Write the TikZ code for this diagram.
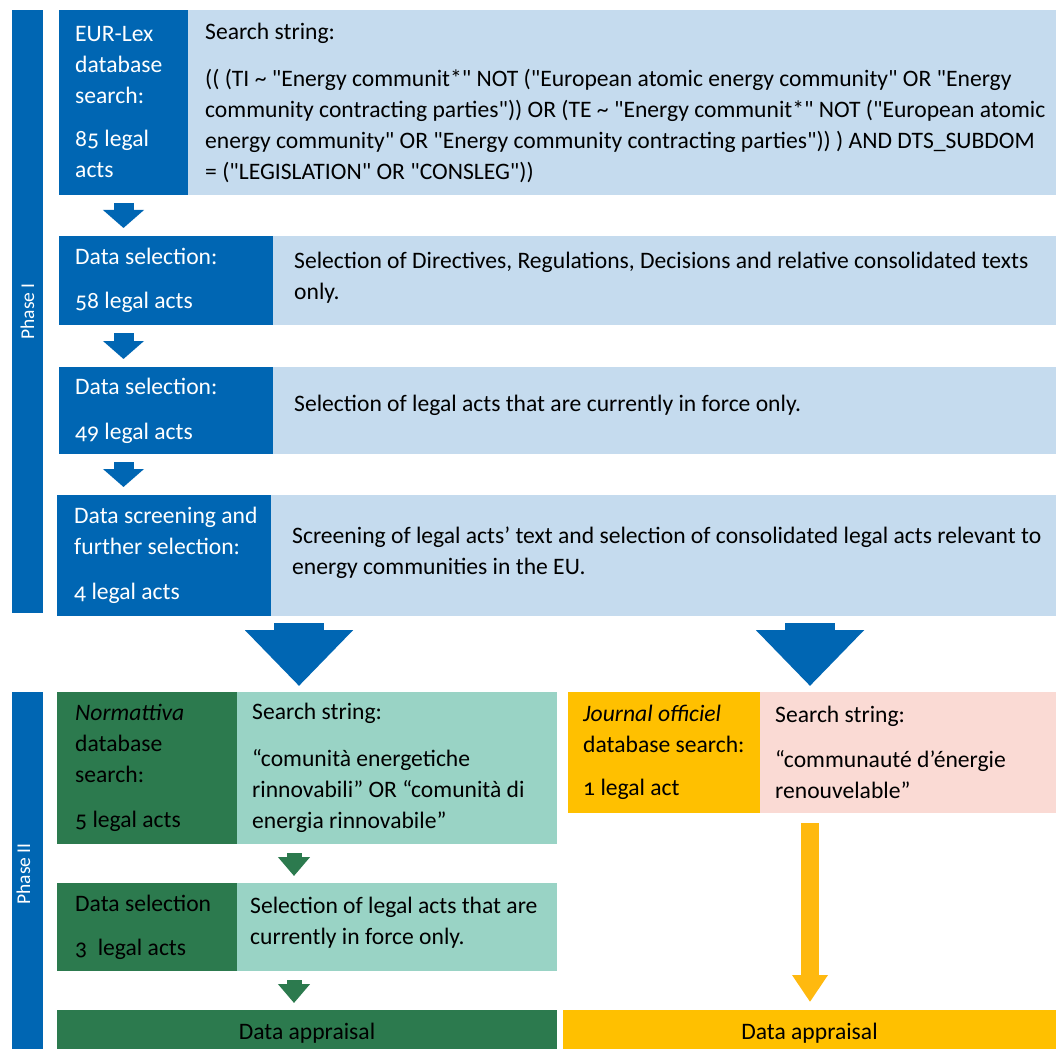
\documentclass[tikz,border=0pt]{standalone}
\usepackage{fontspec}
\setmainfont{Carlito}[Numbers=OldStyle,Ligatures=TeXOff]
\usetikzlibrary{positioning,arrows.meta}

\definecolor{eublue}{RGB}{0,102,179}
\definecolor{eulight}{RGB}{197,219,238}
\definecolor{itdark}{RGB}{44,122,78}
\definecolor{itlight}{RGB}{153,211,197}
\definecolor{frdark}{RGB}{255,192,0}
\definecolor{frlight}{RGB}{250,218,212}
\definecolor{frarrow}{RGB}{255,185,15}

\newcommand\boxfont{\fontsize{23.6}{31}\selectfont}
\newcommand\phasefont{\fontsize{19.5}{22}\selectfont}

\tikzset{
  cell/.style={anchor=north west, inner sep=0pt, outer sep=0pt},
  eudark/.style={cell, fill=eublue},
  eulite/.style={cell, fill=eulight},
  itdarkbox/.style={cell, fill=itdark},
  itlitebox/.style={cell, fill=itlight},
  frdarkbox/.style={cell, fill=frdark},
  frlitebox/.style={cell, fill=frlight},
  phasebar/.style={cell, fill=eublue, minimum width=31pt},
  phasetxt/.style={font=\phasefont, text=white, rotate=90, inner sep=0pt},
  txt/.style={inner sep=0pt, align=left, font=\boxfont, text=black},
  wtxt/.style={txt, text=white},
  eudown/.style={eublue, line width=20pt, -{Triangle[width=40pt,length=18pt]},
    shorten <=8pt, shorten >=8pt},
  bigdown/.style={eublue, line width=50pt, -{Triangle[width=105pt,length=56pt]},
    shorten <=7pt, shorten >=6pt},
  itdown/.style={itdark, line width=15pt, -{Triangle[width=31pt,length=19pt]},
    shorten <=9pt, shorten >=7pt},
  frdown/.style={frarrow, line width=18pt, -{Triangle[width=34pt,length=27pt]},
    shorten <=10pt, shorten >=8pt},
}

\begin{document}
\begin{tikzpicture}[x=1pt,y=-1pt]
\useasboundingbox[fill=white] (0,0) rectangle (1056,1048);

% phase bars
\node[phasebar, minimum height=603pt] (ph1) at (12,10) {};
\node[phasetxt] (ph1t) at (ph1.center) {Phase I};
\node[phasebar, minimum height=364pt] (ph2) at (12,692) {};
\node[phasetxt, yshift=4pt] (ph2t) at (ph2.center) {Phase II};

% Phase I: EUR-Lex
\node[eudark, minimum width=129pt, minimum height=185pt] (eurL) at (59,10) {};
\node[eulite, minimum width=868pt, minimum height=185pt] (eurR) at (eurL.north east) {};
\node[eudark, minimum width=214pt, minimum height=89pt] (selL) at (59,236) {};
\node[eulite, minimum width=783pt, minimum height=89pt] (selR) at (selL.north east) {};
\node[eudark, minimum width=214pt, minimum height=87pt] (forceL) at (59,367) {};
\node[eulite, minimum width=783pt, minimum height=87pt] (forceR) at (forceL.north east) {};
\node[eudark, minimum width=214pt, minimum height=121pt] (scrL) at (57,495) {};
\node[eulite, minimum width=785pt, minimum height=121pt] (scrR) at (scrL.north east) {};

\node[wtxt, right=16pt of eurL.west] (eurLt) {EUR-Lex\\database\\search:\\[12pt]85 legal\\acts};
\node[txt, right=17pt of eurR.west] (eurRt) {Search string:\\[16pt]%
(( (TI \textasciitilde{} "Energy communit*" NOT ("European atomic energy community" OR "Energy\\
community contracting parties")) OR (TE \textasciitilde{} "Energy communit*" NOT ("European atomic\\
energy community" OR "Energy community contracting parties")) ) AND DTS\_SUBDOM\\
= ("LEGISLATION" OR "CONSLEG"))};
\node[wtxt, right=16pt of selL.west] (selLt) {Data selection:\\[13pt]58 legal acts};
\node[txt, right=21pt of selR.west, yshift=3pt] (selRt) {Selection of Directives, Regulations, Decisions and relative consolidated texts\\only.};
\node[wtxt, right=16pt of forceL.west] (forceLt) {Data selection:\\[14pt]49 legal acts};
\node[txt, right=21pt of forceR.west, yshift=5pt] (forceRt) {Selection of legal acts that are currently in force only.};
\node[wtxt, right=17pt of scrL.west] (scrLt) {Data screening and\\further selection:\\[14pt]4 legal acts};
\node[txt, right=21pt of scrR.west, yshift=3pt] (scrRt) {Screening of legal acts’ text and selection of consolidated legal acts relevant to\\energy communities in the EU.};

\draw[eudown] (eurL.south) -- (eurL.south |- selL.north);
\draw[eudown] (eurL.south |- selL.south) -- (eurL.south |- forceL.north);
\draw[eudown] (eurL.south |- forceL.south) -- (eurL.south |- scrL.north);

% Phase II: Italy and France
\coordinate (phIIa) at (299,692);
\coordinate (phIIb) at (810,692);
\coordinate (itcol) at (294,692);
\draw[bigdown] (phIIa |- scrR.south) -- (phIIa);
\draw[bigdown] (phIIb |- scrR.south) -- (phIIb);

\node[itdarkbox, minimum width=180pt, minimum height=152pt] (normL) at (57,692) {};
\node[itlitebox, minimum width=320pt, minimum height=152pt] (normR) at (normL.north east) {};
\node[itdarkbox, minimum width=180pt, minimum height=88pt] (itselL) at (57,883) {};
\node[itlitebox, minimum width=320pt, minimum height=88pt] (itselR) at (itselL.north east) {};
\node[itdarkbox, minimum width=500pt, minimum height=46pt] (itapp) at (57,1010) {};

\node[txt, right=18pt of normL.west] (normLt) {\textit{Normattiva}\\database\\search:\\[14pt]5 legal acts};
\node[txt, right=15pt of normR.west] (normRt) {Search string:\\[16pt]“comunità energetiche\\rinnovabili” OR “comunità di\\energia rinnovabile”};
\node[txt, right=18pt of itselL.west] (itselLt) {Data selection\\[13pt]3\ \ legal acts};
\node[txt, right=13pt of itselR.west, yshift=4pt] (itselRt) {Selection of legal acts that are\\currently in force only.};
\node[txt] (itappt) at (itapp.center) {Data appraisal};

\draw[itdown] (itcol |- normR.south) -- (itcol |- itselR.north);
\draw[itdown] (itcol |- itselR.south) -- (itcol |- itapp.north);

\node[frdarkbox, minimum width=192pt, minimum height=121pt] (jourL) at (568,692) {};
\node[frlitebox, minimum width=296pt, minimum height=121pt] (jourR) at (jourL.north east) {};
\node[frdarkbox, minimum width=493pt, minimum height=46pt] (frapp) at (563,1010) {};

\node[txt, right=15pt of jourL.west] (jourLt) {\textit{Journal officiel}\\database search:\\[12pt]1 legal act};
\node[txt, right=15pt of jourR.west] (jourRt) {Search string:\\[14pt]“communauté d’énergie\\renouvelable”};
\node[txt] (frappt) at (frapp.center) {Data appraisal};

\draw[frdown] (phIIb |- jourR.south) -- (phIIb |- frapp.north);

\end{tikzpicture}
\end{document}
